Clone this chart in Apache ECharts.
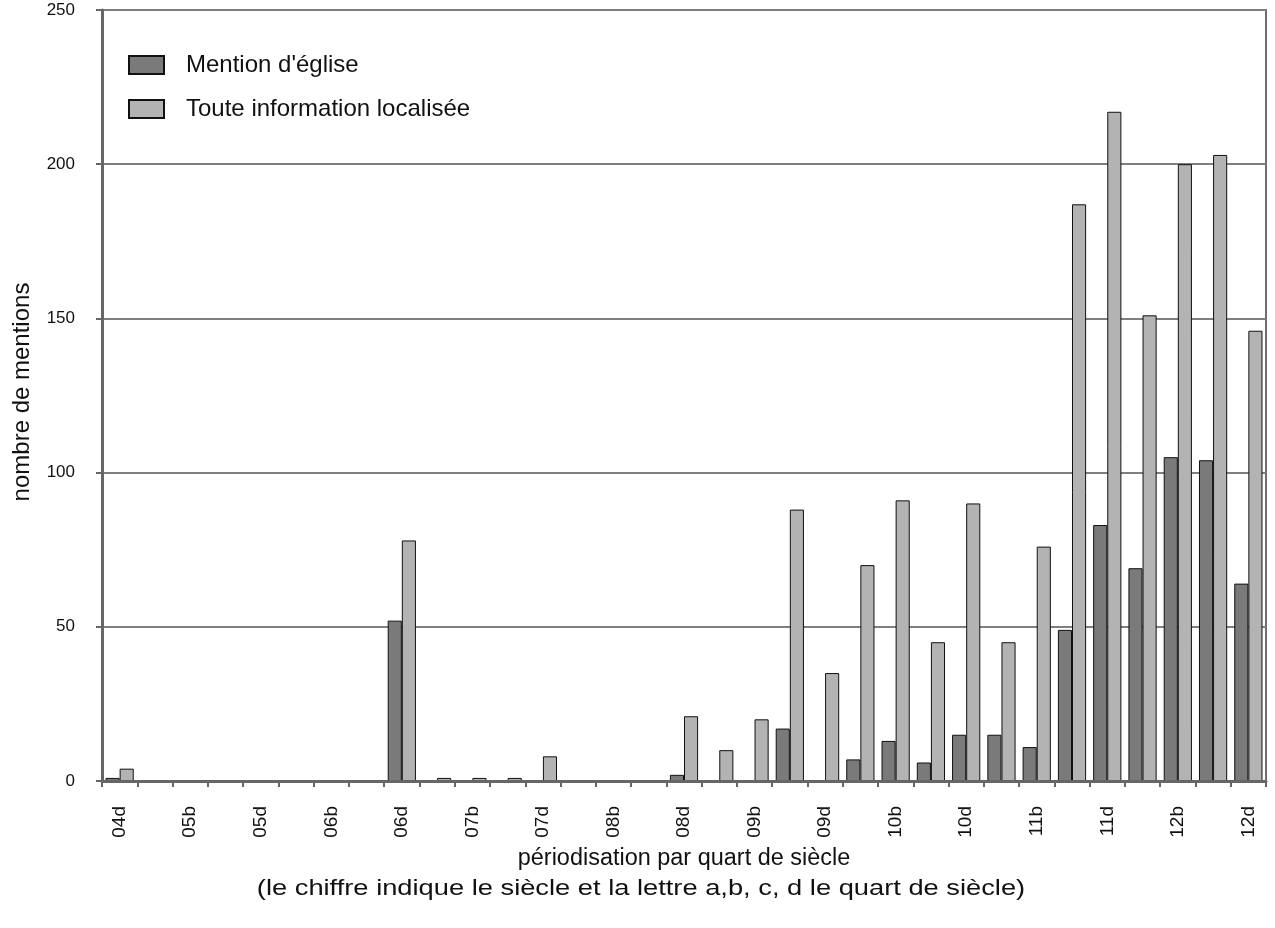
<!DOCTYPE html>
<html>
<head>
<meta charset="utf-8">
<script src="https://cdn.jsdelivr.net/npm/echarts@6/dist/echarts.min.js"></script>
<style>
html,body{margin:0;padding:0;background:#fff;}
#chart{width:1275px;height:928px;}
</style>
</head>
<body>
<div id="chart"></div>
<script>
var categories = ['04d','05a','05b','05c','05d','06a','06b','06c','06d','07a','07b','07c','07d','08a','08b','08c','08d','09a','09b','09c','09d','10a','10b','10c','10d','11a','11b','11c','11d','12a','12b','12c','12d'];
var mentionEglise = [1,0,0,0,0,0,0,0,52,0,0,0,0,0,0,0,2,0,0,17,0,7,13,6,15,15,11,49,83,69,105,104,64];
var touteInfo = [4,0,0,0,0,0,0,0,78,1,1,1,8,0,0,0,21,10,20,88,35,70,91,45,90,45,76,187,217,151,200,203,146];
var yTicks = {min: 0, max: 250, interval: 50};
var seriesNames = ["Mention d'église", "Toute information localisée"];
var xTitle = ["périodisation par quart de siècle", "(le chiffre indique le siècle et la lettre a,b, c, d le quart de siècle)"];
var yTitle = "nombre de mentions";

var font = 'Liberation Sans, Arial, sans-serif';
var chart = echarts.init(document.getElementById('chart'));
chart.setOption({
  backgroundColor: '#fff',
  animation: false,
  textStyle: {fontFamily: font},
  grid: {left: 102, right: 9, top: 10, bottom: 147, show: true, borderColor: '#6e6e6e', borderWidth: 2, backgroundColor: 'transparent'},
  legend: {
    orient: 'vertical', left: 123, top: 48, itemWidth: 35, itemHeight: 18, itemGap: 20,
    icon: 'rect',
    textStyle: {fontSize: 24, color: '#111', fontFamily: font, padding: [0, 0, 0, 17]},
    data: seriesNames
  },
  xAxis: {
    type: 'category', data: categories, z: 3,
    axisLine: {lineStyle: {color: '#666', width: 3}},
    axisTick: {show: true, interval: 0, length: 6, lineStyle: {color: '#666', width: 2}},
    axisLabel: {interval: 1, rotate: 90, margin: 25, fontSize: 19, color: '#111', fontFamily: font},
    splitLine: {show: false}
  },
  yAxis: {
    type: 'value', min: yTicks.min, max: yTicks.max, interval: yTicks.interval,
    axisLine: {show: true, lineStyle: {color: '#666', width: 3}},
    axisTick: {show: true, length: 6, lineStyle: {color: '#666', width: 2}},
    axisLabel: {fontSize: 17, color: '#111', margin: 27, fontFamily: font},
    splitLine: {show: true, lineStyle: {color: '#7f7f7f', width: 2}}
  },
  graphic: [
    {type: 'text', x: 684, y: 859, scaleX: 1.02, style: {text: xTitle[0], x: 0, y: 0, textAlign: 'center', textVerticalAlign: 'middle', fontSize: 23, fill: '#111', fontFamily: font}},
    {type: 'text', x: 641, y: 889, scaleX: 1.24, style: {text: xTitle[1], x: 0, y: 0, textAlign: 'center', textVerticalAlign: 'middle', fontSize: 22, fill: '#111', fontFamily: font}},
    {type: 'text', x: 22, y: 392, rotation: Math.PI / 2, style: {text: yTitle, x: 0, y: 0, textAlign: 'center', textVerticalAlign: 'middle', fontSize: 24, fill: '#111', fontFamily: font}}
  ],
  series: [
    {name: seriesNames[0], type: 'bar', data: mentionEglise, barGap: '0%', barCategoryGap: '20%',
     itemStyle: {color: '#7a7a7a', borderColor: '#111', borderWidth: 1}},
    {name: seriesNames[1], type: 'bar', data: touteInfo, barGap: '0%', barCategoryGap: '20%',
     itemStyle: {color: '#b3b3b3', borderColor: '#111', borderWidth: 1}}
  ]
});
</script>
</body>
</html>
